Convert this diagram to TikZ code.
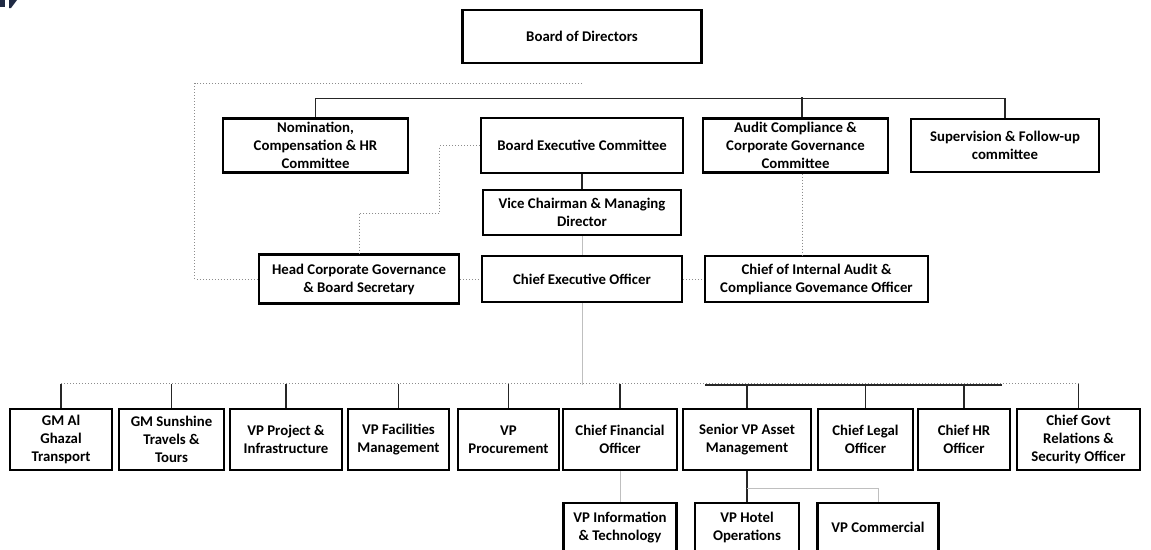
\documentclass[tikz,border=0pt]{standalone}
\usepackage{fontspec}
\setmainfont{Carlito}
\usetikzlibrary{positioning}
\definecolor{navy}{HTML}{1F2A44}

\begin{document}
\begin{tikzpicture}[x=1pt,y=-1pt,on grid,
  box/.style={draw,line width=2.2pt,align=center,inner sep=0pt,
    font=\fontsize{14.8}{18}\selectfont\bfseries},
  link/.style={draw=black!85,line width=1.2pt},
  dots/.style={draw=black!45,line width=1pt,dash pattern=on 1pt off 2pt},
  faint/.style={draw=black!25,line width=1pt}]
  \useasboundingbox (0,0) rectangle (1151,549);
  \fill[navy] (0,0) -- (5,0) -- (5,7) -- (0,7) -- cycle;
  \fill[navy] (9,0) -- (17,0) -- (11,8) -- (9,8) -- cycle;

  % board and committees
  \node[box,minimum width=202pt,minimum height=55pt] (bec) at (582,145.5) {Board Executive Committee};
  \node[box,minimum width=239pt,minimum height=53pt] (board) [above=109pt of bec] {Board of Directors};
  \node[box,minimum width=185pt,minimum height=54pt] (nom) [left=266.5pt of bec] {Nomination,\\Compensation \& HR\\Committee};
  \node[box,minimum width=185pt,minimum height=54pt] (audit) [right=213.5pt of bec] {Audit Compliance \&\\Corporate Governance\\Committee};
  \node[box,minimum width=188pt,minimum height=53pt] (sup) [right=209.5pt of audit] {Supervision \& Follow-up\\committee};

  % executive level
  \node[box,minimum width=198pt,minimum height=45pt] (vc) [below=67pt of bec] {Vice Chairman \& Managing\\Director};
  \node[box,minimum width=200pt,minimum height=46pt] (ceo) [below=66.5pt of vc] {Chief Executive Officer};
  \node[box,minimum width=200pt,minimum height=49pt] (hcg) [left=223pt of ceo] {Head Corporate Governance\\\& Board Secretary};
  \node[box,minimum width=223pt,minimum height=46pt] (cia) [right=234.5pt of ceo] {Chief of Internal Audit \&\\Compliance Govemance Officer};

  % reporting units
  \node[box,minimum width=102pt,minimum height=61pt] (gm1) at (61,439.5) {GM Al\\Ghazal\\Transport};
  \node[box,minimum width=105pt,minimum height=61pt] (gm2) [right=110.5pt of gm1] {GM Sunshine\\Travels \&\\Tours};
  \node[box,minimum width=112pt,minimum height=61pt] (vpp) [right=114.5pt of gm2] {VP Project \&\\Infrastructure};
  \node[box,minimum width=101pt,minimum height=61pt] (vpf) [right=112.5pt of vpp] {VP Facilities\\Management};
  \node[box,minimum width=101pt,minimum height=61pt] (vpr) [right=110pt of vpf] {VP\\Procurement};
  \node[box,minimum width=114pt,minimum height=61pt] (cfo) [right=111.5pt of vpr] {Chief Financial\\Officer};
  \node[box,minimum width=128pt,minimum height=61pt] (svp) [right=127pt of cfo] {Senior VP Asset\\Management};
  \node[box,minimum width=95pt,minimum height=61pt] (clo) [right=118.5pt of svp] {Chief Legal\\Officer};
  \node[box,minimum width=92pt,minimum height=61pt] (chr) [right=98.5pt of clo] {Chief HR\\Officer};
  \node[box,minimum width=123pt,minimum height=61pt] (cgr) [right=114.5pt of chr] {Chief Govt\\Relations \&\\Security Officer};

  \node[box,minimum width=113pt,minimum height=49pt] (vpit) [below=88pt of cfo] {VP Information\\\& Technology};
  \node[box,minimum width=104pt,minimum height=49pt] (vph) [below=88pt of svp] {VP Hotel\\Operations};
  \node[box,minimum width=121pt,minimum height=49pt] (vpc) [right=131pt of vph] {VP Commercial};

  % connectors
  \coordinate (bdot) at ([yshift=-19pt]board.south);
  \draw[dots] (bdot) -| ([xshift=-63pt]hcg.west) -- (hcg.west);
  \draw[link] (nom.north) -- ++(0,-19) -| (sup.north);
  \draw[link] ([xshift=6.5pt]audit.north) -- ++(0,-20);
  \draw[link] (bec.south) -- (vc.north);
  \draw[faint] (vc.south) -- (ceo.north);
  \draw[dots] (bec.west) -- ++(-40,0) -- ++(0,67.5) -| (hcg.north);
  \draw[dots] (hcg.east) -- (ceo.west);
  \draw[dots] (ceo.east) -- (cia.west);
  \draw[dots] ([xshift=6.5pt]audit.south) -- ([xshift=6.5pt]audit.south |- cia.north);

  \coordinate (busL) at (705,385);
  \coordinate (busR) at (1002,385);
  \draw[faint] (ceo.south) -- (ceo.south |- busL);
  \draw[dots] ([yshift=24pt]gm1.north) -- ([yshift=24pt]cgr.north);
  \draw[link] (busL) -- (busR);
  \foreach \n in {gm1,gm2,vpp,vpf,vpr,cfo,svp,clo,chr,cgr}
    \draw[link] (\n.north) -- ++(0,-24);

  \draw[link] (svp.south) -- (svp.south |- vph.north);
  \draw[faint] ([yshift=-17pt]svp.south) -| (vpc.north);
  \draw[faint] (cfo.south) -- (vpit.north);
\end{tikzpicture}
\end{document}
